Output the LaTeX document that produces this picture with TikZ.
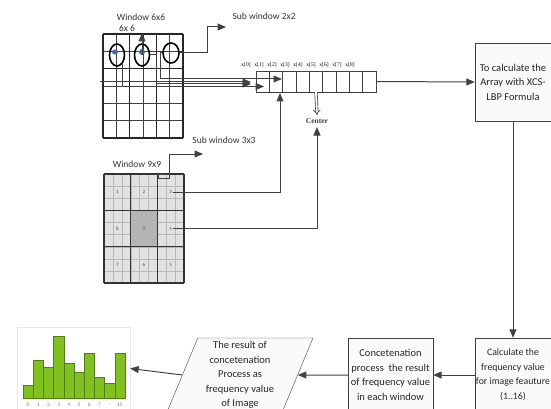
\documentclass[tikz,border=0pt]{standalone}
\usepackage{fontspec}
\setmainfont{Carlito}
\newfontfamily\centerfont{Liberation Serif}
\usetikzlibrary{arrows.meta,shapes.geometric}
\definecolor{linegray}{RGB}{65,65,65}
\definecolor{cellgray}{RGB}{226,226,226}
\definecolor{midgray}{RGB}{180,180,180}
\definecolor{dotblue}{RGB}{60,105,160}
\definecolor{bargreen}{RGB}{128,192,32}
\definecolor{bardark}{RGB}{80,125,20}

\begin{document}
\begin{tikzpicture}[x=1pt,y=-1pt,
  flow/.style={draw=linegray, line width=1pt, -{Triangle[length=8.5pt,width=7pt]}},
  box/.style={draw=linegray, fill=gray!4, align=center, inner sep=1pt, text=black!85,
    font=\fontsize{10.5}{14.5}\selectfont},
  ring/.style={ellipse, draw=black, line width=1.6pt, inner sep=0pt},
  cell/.style={draw=linegray, minimum width=13.333pt, minimum height=21pt, inner sep=0pt},
  idx/.style={font=\centerfont\fontsize{5.5}{6}\selectfont, inner sep=0pt},
  lab/.style={font=\fontsize{9.5}{11}\selectfont, text=black!80},
  num/.style={font=\fontsize{5}{5}\selectfont, text=black!70, inner sep=1pt}]
\useasboundingbox (0,0) rectangle (551,409);

\foreach \i in {0,...,6} \draw [linegray, thin] (103+13.333*\i,34) -- (103+13.333*\i,138);
\foreach \j in {0,...,6} \draw [linegray, thin] (103,34+17.333*\j) -- (183,34+17.333*\j);
\foreach \i in {0,2,4,6} \draw [black!85, line width=1.2pt] (103+13.333*\i,34) -- (103+13.333*\i,138);
\foreach \j in {0,2,6} \draw [black!85, line width=1.2pt] (103,34+17.333*\j) -- (183,34+17.333*\j);
\node [lab] (w6) at (141,17) {Window 6x6};
\node [lab] (w6b) at (127,28) {6x 6};

\node [ring, minimum width=15pt, minimum height=22pt] (c1) at (117,55) {};
\node [ring, minimum width=15pt, minimum height=22pt] (c2) at (142,55) {};
\node [ring, minimum width=16pt, minimum height=20pt] (c3) at (171,53) {};
\fill [dotblue] (115,52) ellipse (3pt and 2.5pt);
\fill [dotblue] (142,52) ellipse (3pt and 3pt);

\coordinate (top6) at (142,33);
\draw [flow] (c2.center) -- (top6);
\coordinate (sw2) at (226,27);
\draw [flow] (c3.east) -- ++(28,0) |- (sw2);
\node [lab, anchor=west] (sw2lab) at (229,16) {Sub window 2x2};

\foreach \i in {0,...,8} \node [cell] (x\i) at (262.67+13.333*\i,81.5) {};
\foreach \i in {0,...,8} \node [idx] at (246+13*\i,65) {x[\i]};

\coordinate (inL) at (100,82);
\coordinate (a0) at (251,82);
\coordinate (a0b) at (251,84);
\coordinate (a1) at (264,86.5);
\coordinate (a2) at (282,79);
\draw [flow] (inL) -- (a0);
\draw [flow] (c1.south east) |- (a1);
\draw [flow] (c2.east) -- ++(6,0) |- (a0b);
\draw [flow] (c3.west) -- ++(-2,0) |- (a2);

\node [font=\centerfont\bfseries\fontsize{7.5}{8}\selectfont, text=black!75] (ctr) at (317,121) {Center};
\draw [linegray, double, double distance=1.8pt, line width=0.7pt, -{Implies}] (x4.south) -- (ctr.north);

\fill [cellgray] (104,174) rectangle (184,283);
\fill [midgray] (130.67,210.33) rectangle (157.33,246.67);
\foreach \i in {0,...,9} \draw [gray!55, very thin] (104+8.889*\i,174) -- (104+8.889*\i,283);
\foreach \j in {0,...,9} \draw [gray!55, very thin] (104,174+12.111*\j) -- (184,174+12.111*\j);
\foreach \i in {0,3,6,9} \draw [black!80, line width=1.2pt] (104+8.889*\i,174) -- (104+8.889*\i,283);
\foreach \j in {0,3,6,9} \draw [black!80, line width=1.2pt] (104,174+12.111*\j) -- (184,174+12.111*\j);
\foreach \n/\c/\r in {1/0/0,2/1/0,3/2/0,8/0/1,0/1/1,4/2/1,7/0/2,6/1/2,5/2/2}
  \node [num] (g\n) at (117.33+26.667*\c,192.17+36.333*\r) {\n};
\node [lab] (w9) at (137,164) {Window 9x9};

\draw [linegray, thin] (158,174.5) rectangle (169,178);
\coordinate (sq3) at (169,174.5);
\coordinate (sw3) at (203,154);
\draw [flow] (sq3) |- (sw3);
\node [lab] (sw3lab) at (224,140) {Sub window 3x3};

\coordinate (a3) at (280,93);
\draw [flow] (g3.east) -| (a3);
\draw [flow] (g4.east) -| (ctr.south);

\node [box, minimum width=76pt, minimum height=78pt] (calc) at (513,82) {To calculate the\\Array with XCS-\\LBP Formula};
\draw [flow] (x8.east) -- (calc.west);

\node [box, minimum width=76pt, minimum height=74pt, font=\fontsize{9.8}{14.5}\selectfont] (freq) at (513,375) {Calculate the\\frequency value\\for image feauture\\(1..16)};
\draw [flow] (calc.south) -- (freq.north);

\node [box, minimum width=85pt, minimum height=74pt] (concat) at (390.5,375) {Concetenation\\process~ the result\\of frequency value\\in each window};
\draw [flow] (freq.west) -- (concat.east);

\node [box, trapezium, trapezium left angle=66, trapezium right angle=114, trapezium stretches body,
  minimum width=146pt, minimum height=74pt] (res) at (240,375)
  {The result of\\concetenation\\Process as\\frequency value\\of Image};
\draw [flow] (concat.west) -- (res.east);

\node [draw=gray!18, minimum width=113pt, minimum height=83pt] (hist) at (73.5,368.5) {};
\draw [flow] (res.west) -- (hist.east);
\foreach \h [count=\k from 0] in {385,360,367,336,363,372,353,377,383,353}
  \draw [fill=bargreen, draw=bardark, line width=0.6pt] (23+10.2*\k,398) rectangle (33.2+10.2*\k,\h);
\foreach \t [count=\k from 0] in {0,1,2,3,4,5,6,7,--,15}
  \node [font=\fontsize{5.5}{6}\selectfont, text=gray, inner sep=0pt] at (28.1+10.2*\k,404.5) {\t};
\end{tikzpicture}
\end{document}
